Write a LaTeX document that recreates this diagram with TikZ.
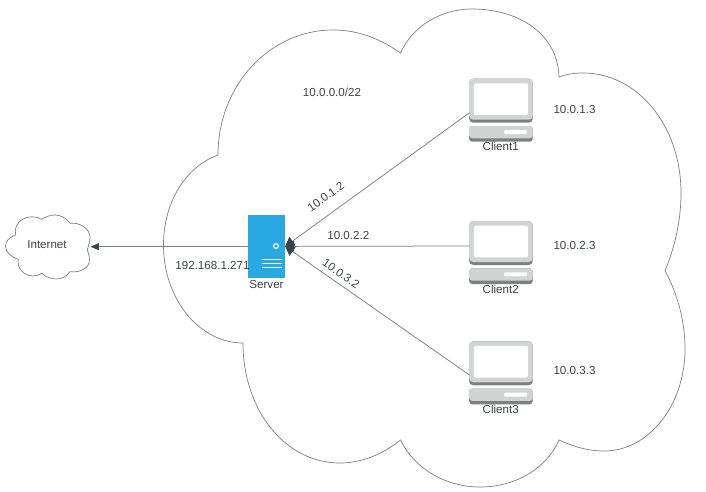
\documentclass[tikz,border=0pt]{standalone}
\usepackage{fontspec}
\setmainfont{Liberation Sans}
\usetikzlibrary{arrows.meta}
\definecolor{ink}{HTML}{3A414A}
\definecolor{wire}{HTML}{7B7F86}
\definecolor{srv}{HTML}{29A9E1}
\definecolor{pclight}{HTML}{D2D4D3}
\definecolor{pcdark}{HTML}{7E7F80}
\tikzset{
  x=1pt,y=-1pt,
  lbl/.style={text=ink,font=\fontsize{11.6}{13}\selectfont,inner sep=0pt},
  cloudline/.style={draw=wire,line width=0.7pt,line join=miter},
  link/.style={draw=wire,line width=0.75pt},
  tip/.style={-{Triangle[length=8.3pt,width=6.8pt,fill=ink,color=ink]}},
  widetip/.style={-{Triangle[length=9pt,width=10.5pt,fill=ink,color=ink]}},
  pcpart/.pic={
    \fill[pcdark,rounded corners=4pt] (0,0) rectangle (63.5,44);
    \fill[pclight,rounded corners=4pt] (0,0) rectangle (63.5,41);
    \fill[white,rounded corners=1.5pt] (4.7,4.6) rectangle (59,36.3);
    \fill[pcdark,rounded corners=3pt] (0,47.3) rectangle (63.5,63);
    \fill[pclight,rounded corners=3pt] (0,47.3) rectangle (63.5,59.6);
    \fill[white,rounded corners=1.5pt] (34.7,51.3) rectangle (58,55.3);
  }
}
\begin{document}
\begin{tikzpicture}
\useasboundingbox[fill=white] (0,0) rectangle (706,492);
% large cloud
\path[cloudline] (218,155) .. controls (218,85) and (270,30) .. (333,30)
  .. controls (360,30) and (382,40) .. (400.5,53)
  .. controls (412,27) and (440,9) .. (472,9)
  .. controls (520,9) and (558,35) .. (559,77)
  .. controls (567,74) and (575,73) .. (583,73)
  .. controls (637,73) and (681,125) .. (681,193)
  .. controls (681,220) and (675,247) .. (665,270.5)
  .. controls (678,295) and (685,322) .. (685,349)
  .. controls (685,405) and (649,451) .. (604,451)
  .. controls (587,451) and (572,446) .. (559,440)
  .. controls (547,468) and (516,487) .. (480,487)
  .. controls (445,487) and (414,468) .. (400.5,440)
  .. controls (383,454) and (362,463) .. (340,463)
  .. controls (285,463) and (243,410) .. (243,343)
  .. controls (200,343) and (163.5,300) .. (163.5,245)
  .. controls (163.5,203) and (185,167) .. (218,155) -- cycle;
% internet cloud
\path[cloudline] (15.7,235)
  .. controls (8,238) and (5.5,242) .. (5.5,246.5)
  .. controls (5.5,252) and (11,257) .. (18.3,259.3)
  .. controls (16.5,268) and (24,276) .. (33,276)
  .. controls (36,276) and (39,275) .. (41.7,273.3)
  .. controls (46,277) and (51,279) .. (56.7,279)
  .. controls (62,279) and (67,276) .. (70,271.7)
  .. controls (80,273) and (89.5,268) .. (89.5,260)
  .. controls (89.5,257) and (88.5,253) .. (87.3,250)
  .. controls (88.5,246) and (90,241) .. (90,237)
  .. controls (90,229) and (80,222) .. (70,223.3)
  .. controls (66,218) and (61,215) .. (55,215)
  .. controls (50,215) and (45,217) .. (41.7,219.3)
  .. controls (36,216) and (28,216) .. (23,219)
  .. controls (17,222) and (14,229) .. (15.7,235) -- cycle;
\node[lbl] (internet) at (47,245) {Internet};
\coordinate (inetport) at (90.5,246.7);
% server
\node[fill=srv,draw=none,inner sep=0pt,minimum width=37pt,minimum height=62.7pt] (server) at (266.5,246.4) {};
\node[draw=white,line width=1.1pt,circle,inner sep=0pt,minimum size=4.8pt] (srvdot) at (276,246) {};
\coordinate (s1a) at (261.5,259.4); \coordinate (s1b) at (281.5,259.4);
\coordinate (s2a) at (261.5,263.5); \coordinate (s2b) at (281.5,263.5);
\coordinate (s3a) at (261.5,267.7); \coordinate (s3b) at (281.5,267.7);
\draw[white,line width=1pt] (s1a) -- (s1b) (s2a) -- (s2b) (s3a) -- (s3b);
\node[lbl] (srvlabel) at (266.5,284.5) {Server};
% clients
\pic at (469.2,78.7) {pcpart};
\pic at (469.2,221) {pcpart};
\pic at (469.2,341.3) {pcpart};
\node[lbl] (c1label) at (500.7,146.7) {Client1};
\node[lbl] (c2label) at (500.7,289.7) {Client2};
\node[lbl] (c3label) at (500.7,409.7) {Client3};
\coordinate (c1) at (469.5,112.7);
\coordinate (c2) at (469.5,246);
\coordinate (c3) at (469.5,375);
% connectors
\draw[link,tip] (server.west |- inetport) -- (inetport);
\draw[link,widetip] (c1) -- (server.east);
\draw[link,widetip] (c2) -- (server.east);
\draw[link,widetip] (c3) -- (server.east);
% labels
\node[lbl] (net) at (332,92.5) {10.0.0.0/22};
\node[lbl] (ip1) at (574.5,110) {10.0.1.3};
\node[lbl] (ip2) at (574.5,245.5) {10.0.2.3};
\node[lbl] (ip3) at (574.5,370.5) {10.0.3.3};
\node[lbl] (wan) at (212.5,266) {192.168.1.271};
\node[lbl,rotate=36] (g1) at (325.7,196.7) {10.0.1.2};
\node[lbl] (g2) at (348.3,236) {10.0.2.2};
\node[lbl,rotate=-35] (g3) at (341,273.7) {10.0.3.2};
\end{tikzpicture}
\end{document}
